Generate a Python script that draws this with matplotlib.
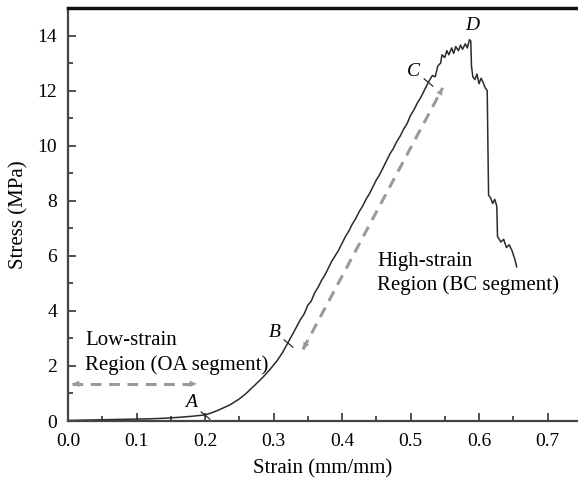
import matplotlib.pyplot as plt
import numpy as np

plt.rcParams['font.family'] = ['Liberation Serif', 'DejaVu Serif']

#### stress-strain curve
strain = [0.000, 0.020, 0.040, 0.060, 0.080, 0.100, 0.120, 0.140, 0.160, 0.180,
          0.200, 0.210, 0.220, 0.236, 0.250, 0.260, 0.276, 0.285, 0.295, 0.305,
          0.313, 0.321, 0.330, 0.339, 0.345, 0.350, 0.355, 0.360, 0.365, 0.370,
          0.375, 0.380, 0.385, 0.390, 0.395, 0.400, 0.405, 0.410, 0.415, 0.420,
          0.425, 0.430, 0.435, 0.440, 0.445, 0.450, 0.455, 0.460, 0.465, 0.470,
          0.475, 0.480, 0.485, 0.490, 0.495, 0.500, 0.505, 0.510, 0.515, 0.520,
          0.526, 0.532, 0.536, 0.540, 0.544, 0.546, 0.550, 0.553, 0.556, 0.560,
          0.563, 0.566, 0.570, 0.573, 0.576, 0.580, 0.583, 0.586, 0.588, 0.589,
          0.591, 0.594, 0.597, 0.600, 0.603, 0.606, 0.609, 0.612, 0.613, 0.614,
          0.617, 0.620, 0.623, 0.626, 0.627, 0.632, 0.636, 0.640, 0.644, 0.648,
          0.652, 0.655]
stress = [0.02, 0.03, 0.04, 0.05, 0.06, 0.07, 0.08, 0.10, 0.13, 0.17,
          0.22, 0.30, 0.40, 0.58, 0.80, 1.00, 1.38, 1.60, 1.88, 2.18,
          2.48, 2.84, 3.25, 3.67, 3.90, 4.20, 4.35, 4.65, 4.85, 5.10,
          5.30, 5.55, 5.80, 6.00, 6.20, 6.45, 6.70, 6.90, 7.15, 7.35,
          7.60, 7.80, 8.05, 8.25, 8.50, 8.75, 8.95, 9.20, 9.45, 9.70,
          9.90, 10.15, 10.35, 10.60, 10.80, 11.10, 11.30, 11.55, 11.75, 12.00,
          12.30, 12.55, 12.50, 12.90, 13.00, 13.30, 13.20, 13.45, 13.30, 13.55,
          13.35, 13.60, 13.45, 13.65, 13.50, 13.70, 13.55, 13.85, 13.80, 12.90,
          12.50, 12.40, 12.60, 12.25, 12.45, 12.30, 12.10, 12.00, 10.00, 8.20,
          8.10, 7.90, 8.05, 7.80, 6.70, 6.50, 6.60, 6.30, 6.40, 6.20,
          5.90, 5.60]

# marked points A-B-C and labels A-D
pt_x = [0.200, 0.321, 0.526]
pt_y = [0.22, 2.84, 12.30]
lab_names = ['A', 'B', 'C', 'D']
lab_x = [0.180, 0.302, 0.504, 0.590]
lab_y = [0.69, 3.20, 12.70, 14.35]

# dashed region arrows
low_arrow = [(0.006, 1.35), (0.188, 1.35)]
high_arrow = [(0.343, 2.60), (0.547, 12.10)]

fig = plt.figure(figsize=(5.78, 4.8), dpi=100)
ax = fig.add_axes([68/578, 59/480, 1 - 68/578, 413/480])

ax.plot(strain, stress, color='#2b2b2b', lw=1.1)

for x, y in zip(pt_x, pt_y):
    ax.plot(x, y, marker=(2, 0, 50), ms=9, mew=0.9, color='#2b2b2b')
for n, x, y in zip(lab_names, lab_x, lab_y):
    ax.text(x, y, n, style='italic', fontsize=14, ha='center', va='center')

arrow_col = '#9a9a9a'
for (x0, y0), (x1, y1) in [low_arrow, high_arrow]:
    ax.plot([x0, x1], [y0, y1], ls=(0, (3.5, 2.5)), lw=2.2, color=arrow_col)
    for (xa, ya), (xb, yb) in [((x0, y0), (x1, y1)), ((x1, y1), (x0, y0))]:
        xs = xa + (xb - xa) * 0.93
        ys = ya + (yb - ya) * 0.93
        ax.annotate('', xy=(xb, yb), xytext=(xs, ys),
                    arrowprops=dict(arrowstyle='-|>,head_length=0.5,head_width=0.22',
                                    color=arrow_col, lw=0.1, shrinkA=0, shrinkB=0))

ax.text(0.025, 2.47, 'Low-strain\nRegion (OA segment)', fontsize=15,
        ha='left', va='center', linespacing=1.32)
ax.text(0.451, 5.36, 'High-strain\nRegion (BC segment)', fontsize=15,
        ha='left', va='center', linespacing=1.32)

ax.set_xlim(0, (578 - 68) / 685)
ax.set_ylim(0, 15)
ax.set_xticks(np.arange(0, 0.71, 0.1))
ax.set_xticks(np.arange(0.05, 0.75, 0.1), minor=True)
ax.set_yticks(np.arange(0, 15, 2))
ax.set_yticks(np.arange(1, 15, 2), minor=True)
ax.xaxis.set_major_formatter(plt.FormatStrFormatter('%.1f'))
ax.tick_params(which='both', direction='in', labelsize=14, color='#333333', width=1.2)
ax.tick_params(which='major', length=6)
ax.tick_params(which='minor', length=3.5)
ax.tick_params(axis='y', pad=8)
ax.tick_params(axis='x', pad=9)

ax.spines['right'].set_visible(False)
ax.spines['top'].set_linewidth(2.5)
ax.spines['top'].set_color('#111111')
for s in ['left', 'bottom']:
    ax.spines[s].set_linewidth(1.6)
    ax.spines[s].set_color('#444444')

ax.set_xlabel('Strain (mm/mm)', fontsize=15, labelpad=6)
ax.set_ylabel('Stress (MPa)', fontsize=15, labelpad=6)

fig.savefig('out.png', dpi=100)
